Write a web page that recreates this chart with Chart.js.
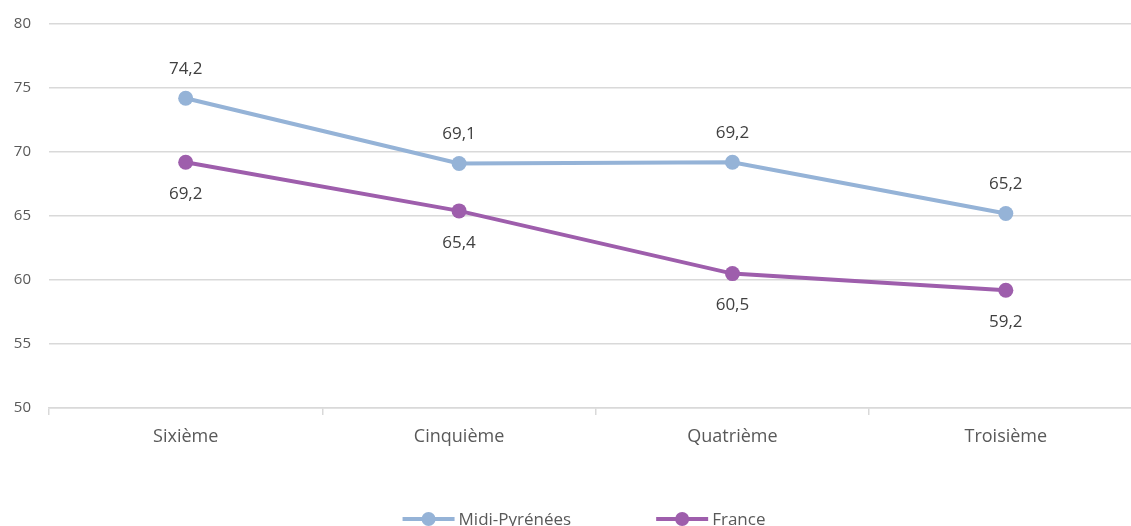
<!DOCTYPE html>
<html>
<head>
<meta charset="utf-8">
<script src="https://cdn.jsdelivr.net/npm/chart.js@4.4.1/dist/chart.umd.min.js"></script>
<style>
  html, body { margin: 0; padding: 0; background: #ffffff; overflow: hidden; }
  #wrap { width: 1164px; height: 545px; }
</style>
</head>
<body>
<div id="wrap"><canvas id="c" width="1164" height="545"></canvas></div>
<script>
// Niveaux de classe
const categories = ['Sixième', 'Cinquième', 'Quatrième', 'Troisième'];
// Séries
const midiPyreneesName = 'Midi-Pyrénées';
const midiPyreneesValues = [74.2, 69.1, 69.2, 65.2];
const franceName = 'France';
const franceValues = [69.2, 65.4, 60.5, 59.2];
// Axe des ordonnées
const yMin = 50;
const yMax = 80;
const yStep = 5;

const FONT = '"Open Sans", "DejaVu Sans", sans-serif';
const BLUE = '#95b3d7';
const PURPLE = '#9e5eac';

function fmt(v) { return v.toFixed(1).replace('.', ','); }

// Étiquettes de valeur : au-dessus pour la première série, en dessous pour la seconde
const valueLabels = {
  id: 'valueLabels',
  afterDatasetsDraw(chart) {
    const ctx = chart.ctx;
    ctx.save();
    ctx.font = '17px ' + FONT;
    ctx.fillStyle = '#404040';
    ctx.textAlign = 'center';
    ctx.textBaseline = 'middle';
    chart.data.datasets.forEach((ds, i) => {
      const meta = chart.getDatasetMeta(i);
      meta.data.forEach((pt, j) => {
        const dy = i === 0 ? -29 : 32;
        ctx.fillText(fmt(ds.data[j]), pt.x, pt.y + dy);
      });
    });
    ctx.restore();
  }
};

// Légende en bas : trait + pastille, puis le nom de la série
const lineLegend = {
  id: 'lineLegend',
  afterDraw(chart) {
    const ctx = chart.ctx;
    ctx.save();
    ctx.font = '17px ' + FONT;
    ctx.textBaseline = 'middle';
    ctx.textAlign = 'left';
    const y = 519;
    const lineLen = 52, gapText = 4, gapItems = 85;
    const items = chart.data.datasets.map(ds => ({
      ds, w: lineLen + gapText + ctx.measureText(ds.label).width
    }));
    const total = items.reduce((s, it) => s + it.w, 0) + gapItems * (items.length - 1);
    let x = chart.width / 2 - total / 2 + 2;
    items.forEach(it => {
      ctx.strokeStyle = it.ds.borderColor;
      ctx.lineWidth = 4;
      ctx.beginPath();
      ctx.moveTo(x, y);
      ctx.lineTo(x + lineLen, y);
      ctx.stroke();
      ctx.fillStyle = it.ds.borderColor;
      ctx.beginPath();
      ctx.arc(x + lineLen / 2, y, 7, 0, Math.PI * 2);
      ctx.fill();
      ctx.fillStyle = '#595959';
      ctx.fillText(it.ds.label, x + lineLen + gapText, y + 1);
      x += it.w + gapItems;
    });
    ctx.restore();
  }
};

new Chart(document.getElementById('c'), {
  type: 'line',
  data: {
    labels: categories,
    datasets: [
      {
        label: midiPyreneesName,
        data: midiPyreneesValues,
        borderColor: BLUE,
        backgroundColor: BLUE,
        borderWidth: 4,
        pointRadius: 7.5,
        pointHoverRadius: 7.5,
        pointBorderWidth: 0,
        tension: 0
      },
      {
        label: franceName,
        data: franceValues,
        borderColor: PURPLE,
        backgroundColor: PURPLE,
        borderWidth: 4,
        pointRadius: 7.5,
        pointHoverRadius: 7.5,
        pointBorderWidth: 0,
        tension: 0
      }
    ]
  },
  options: {
    responsive: false,
    animation: false,
    events: [],
    layout: { padding: { top: 24, right: 21.5, left: 0, bottom: 0 } },
    plugins: {
      legend: { display: false },
      tooltip: { enabled: false }
    },
    scales: {
      x: {
        offset: true,
        grid: {
          display: true,
          offset: true,
          drawOnChartArea: false,
          drawTicks: true,
          tickLength: 7,
          color: '#d9d9d9',
          lineWidth: 1.5
        },
        border: { display: true, color: '#d9d9d9', width: 1.5 },
        ticks: {
          color: '#595959',
          font: { family: FONT, size: 18 },
          padding: 11,
          maxRotation: 0
        },
        afterFit(scale) {
          scale.height = 137;
          scale.paddingLeft = 0;
          scale.paddingRight = 0;
        }
      },
      y: {
        min: yMin,
        max: yMax,
        grid: {
          color: '#d9d9d9',
          lineWidth: 1.5,
          drawTicks: false
        },
        border: { display: false },
        ticks: {
          stepSize: yStep,
          color: '#595959',
          font: { family: FONT, size: 15 },
          padding: 18
        },
        afterFit(scale) {
          scale.width = 49;
          scale.paddingTop = 0;
          scale.paddingBottom = 0;
        }
      }
    }
  },
  plugins: [valueLabels, lineLegend]
});
</script>
</body>
</html>
